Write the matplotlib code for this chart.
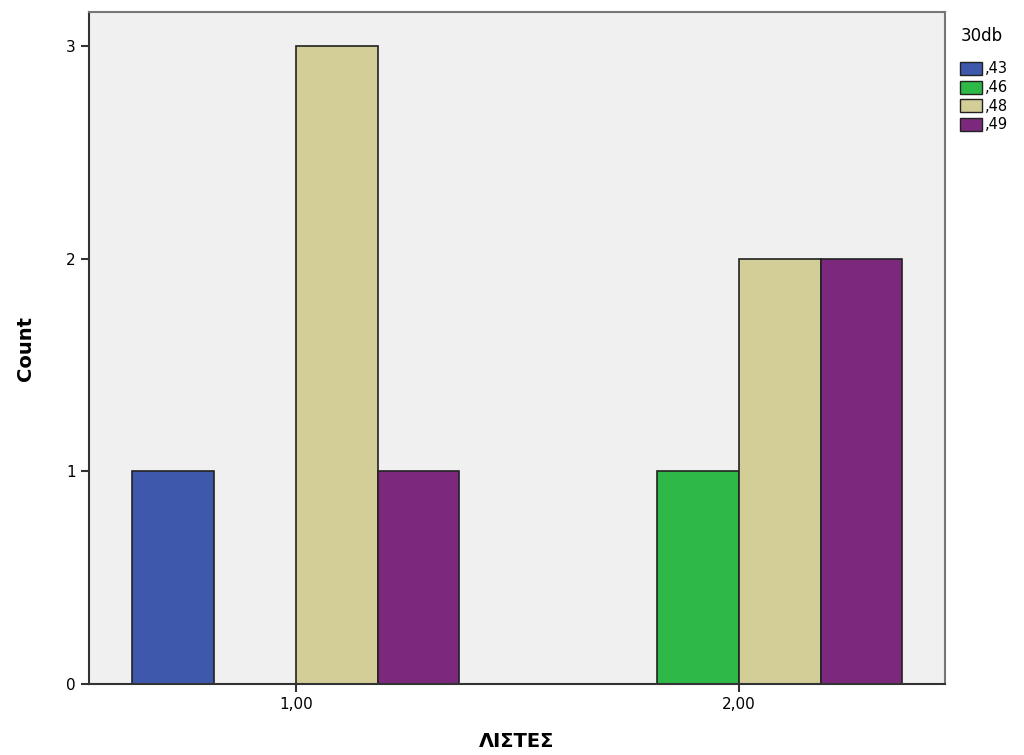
import numpy as np
import matplotlib.pyplot as plt
from matplotlib.patches import Patch

groups = ["1,00", "2,00"]
series = [",43", ",46", ",48", ",49"]
counts = [
    [1, 0, 3, 1],   # 1,00
    [0, 1, 2, 2],   # 2,00
]
colors = ["#3e58ac", "#2eb848", "#d3ce97", "#7c287d"]

fig = plt.figure(figsize=(10.24, 7.55), dpi=100)
ax = fig.add_axes([0.0869, 0.094, 0.836, 0.890])
ax.set_facecolor("#f0f0f0")

w = 0.1844
x = np.arange(len(groups))
for i, s in enumerate(series):
    vals = np.array([row[i] for row in counts])
    off = (i - 1.5) * w
    for xi, v in zip(x, vals):
        if v > 0:
            ax.bar(xi + off, v, width=w, color=colors[i], edgecolor="#222222", linewidth=1.2)

ax.set_xlim(-0.467, 1.465)
ax.set_ylim(0, 3.16)
ax.set_xticks(x)
ax.set_xticklabels(groups, fontsize=11)
ax.set_yticks([0, 1, 2, 3])
ax.set_yticklabels(["0", "1", "2", "3"], fontsize=11)
ax.tick_params(length=6, width=1.5, color="#333333")
for side in ["left", "bottom"]:
    ax.spines[side].set_linewidth(1.5)
    ax.spines[side].set_color("#333333")
for side in ["top", "right"]:
    ax.spines[side].set_linewidth(1.5)
    ax.spines[side].set_color("#777777")

ax.set_ylabel("Count", fontsize=14, fontweight="bold", labelpad=22)
ax.set_xlabel("ΛΙΣΤΕΣ", fontsize=14, fontweight="bold", labelpad=14)

handles = [Patch(facecolor=c, edgecolor="#222222") for c in colors]
leg = fig.legend(handles, series, title="30db", loc="upper left", bbox_to_anchor=(0.928, 0.978),
                 frameon=False, fontsize=10.5, title_fontsize=12, handlelength=1.5, handleheight=1.0,
                 handletextpad=0.2, labelspacing=0.25, borderpad=0.2)
leg._legend_box.align = "left"
leg._legend_box.sep = 12

fig.savefig("out.png", dpi=100)
